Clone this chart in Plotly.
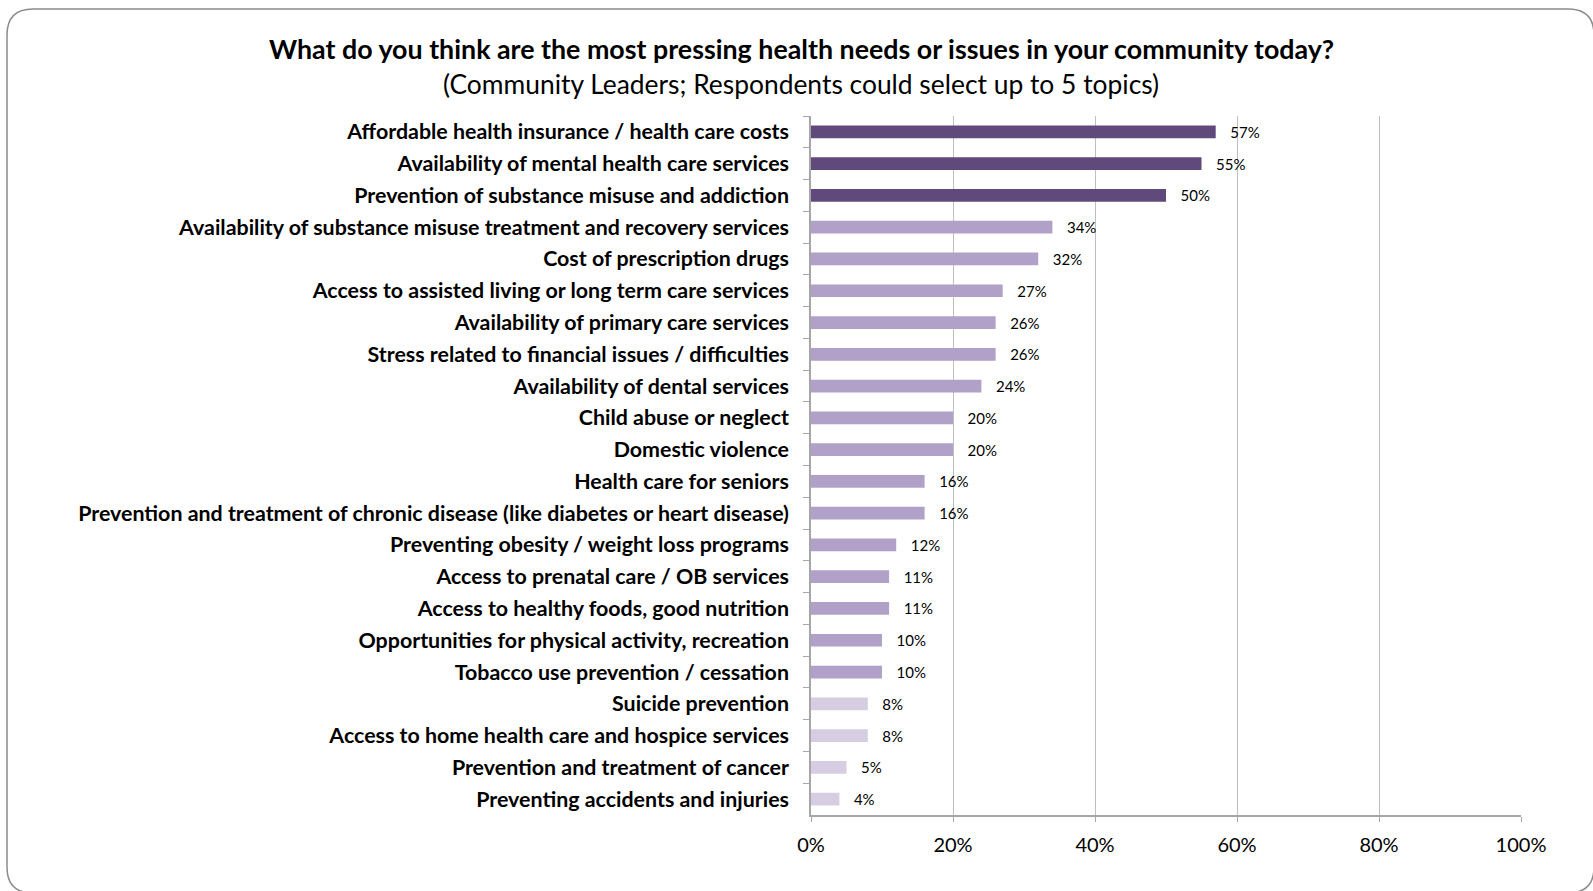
import plotly.graph_objects as go

# Survey topics, top to bottom, and share of community leaders selecting each
topics = [
    "Affordable health insurance / health care costs",
    "Availability of mental health care services",
    "Prevention of substance misuse and addiction",
    "Availability of substance misuse treatment and recovery services",
    "Cost of prescription drugs",
    "Access to assisted living or long term care services",
    "Availability of primary care services",
    "Stress related to financial issues / difficulties",
    "Availability of dental services",
    "Child abuse or neglect",
    "Domestic violence",
    "Health care for seniors",
    "Prevention and treatment of chronic disease (like diabetes or heart disease)",
    "Preventing obesity / weight loss programs",
    "Access to prenatal care / OB services",
    "Access to healthy foods, good nutrition",
    "Opportunities for physical activity, recreation",
    "Tobacco use prevention / cessation",
    "Suicide prevention",
    "Access to home health care and hospice services",
    "Prevention and treatment of cancer",
    "Preventing accidents and injuries",
]
shares = [57, 55, 50, 34, 32, 27, 26, 26, 24, 20, 20, 16, 16, 12, 11, 11, 10, 10, 8, 8, 5, 4]
x_ticks = [0, 20, 40, 60, 80, 100]

title_text = "What do you think are the most pressing health needs or issues in your community today?"
subtitle_text = "(Community Leaders; Respondents could select up to 5 topics)"

FONT = "Lato"
DARK, MID, LIGHT = "#604A7B", "#B1A0C7", "#D6CDE2"


def shade(v):
    if v >= 50:
        return DARK
    if v <= 8:
        return LIGHT
    return MID


W, H = 1593, 891
L, R, T, B = 811, 72, 116, 76

fig = go.Figure(
    go.Bar(
        x=[v / 100 for v in shares],
        y=topics,
        orientation="h",
        marker=dict(color=[shade(v) for v in shares], line=dict(width=0)),
        text=[f"\u00a0\u00a0\u00a0{v}%" for v in shares],
        textposition="outside",
        constraintext="none",
        textfont=dict(family=FONT, size=15, color="#000000"),
        cliponaxis=False,
        hoverinfo="skip",
    )
)

fig.update_layout(
    width=W,
    height=H,
    margin=dict(l=L, r=R, t=T, b=B, pad=0),
    paper_bgcolor="white",
    plot_bgcolor="white",
    bargap=0.6,
    showlegend=False,
    font=dict(family=FONT, color="#000000"),
)

fig.update_xaxes(
    range=[0, 1],
    tickvals=[t / 100 for t in x_ticks],
    ticktext=[f"{t}%" for t in x_ticks],
    tickfont=dict(family=FONT, size=20, color="#000000"),
    showgrid=True,
    gridcolor="#BFBFBF",
    gridwidth=1,
    zeroline=False,
    showline=True,
    linecolor="#A6A6A6",
    linewidth=1.5,
    ticks="outside",
    ticklen=5,
    tickcolor="#A6A6A6",
    ticklabelstandoff=6,
    fixedrange=True,
)

fig.update_yaxes(
    categoryorder="array",
    categoryarray=topics,
    autorange="reversed",
    tickfont=dict(family=FONT, size=21.4, weight="bold", color="#000000"),
    showline=True,
    linecolor="#A6A6A6",
    linewidth=1.5,
    ticks="outside",
    ticklen=6,
    tickcolor="#A6A6A6",
    tickson="boundaries",
    ticklabelstandoff=16,
    showgrid=False,
    fixedrange=True,
)

# Title and subtitle
fig.add_annotation(
    text=f"<b>{title_text}</b>", xref="paper", yref="paper",
    x=(801 - L) / (W - L - R), y=(H - B - 49) / (H - T - B),
    xanchor="center", yanchor="middle", showarrow=False,
    font=dict(family=FONT, size=26.8, color="#000000"),
)
fig.add_annotation(
    text=subtitle_text, xref="paper", yref="paper",
    x=(801 - L) / (W - L - R), y=(H - B - 84) / (H - T - B),
    xanchor="center", yanchor="middle", showarrow=False,
    font=dict(family=FONT, size=26.4, color="#000000"),
)

# Rounded frame around the chart area
pw, ph = W - L - R, H - T - B


def px(x):
    return (x - L) / pw


def py(y):
    return (H - B - y) / ph


x0, y0, x1, y1, r = 7, 9, 1594, 893, 26
path = (
    f"M {px(x0 + r)},{py(y0)} L {px(x1 - r)},{py(y0)} "
    f"Q {px(x1)},{py(y0)} {px(x1)},{py(y0 + r)} "
    f"L {px(x1)},{py(y1 - r)} Q {px(x1)},{py(y1)} {px(x1 - r)},{py(y1)} "
    f"L {px(x0 + r)},{py(y1)} Q {px(x0)},{py(y1)} {px(x0)},{py(y1 - r)} "
    f"L {px(x0)},{py(y0 + r)} Q {px(x0)},{py(y0)} {px(x0 + r)},{py(y0)} Z"
)
fig.add_shape(type="path", path=path, xref="paper", yref="paper",
              line=dict(color="#8C8C8C", width=1.5), layer="below")

fig.write_html("out.html")
